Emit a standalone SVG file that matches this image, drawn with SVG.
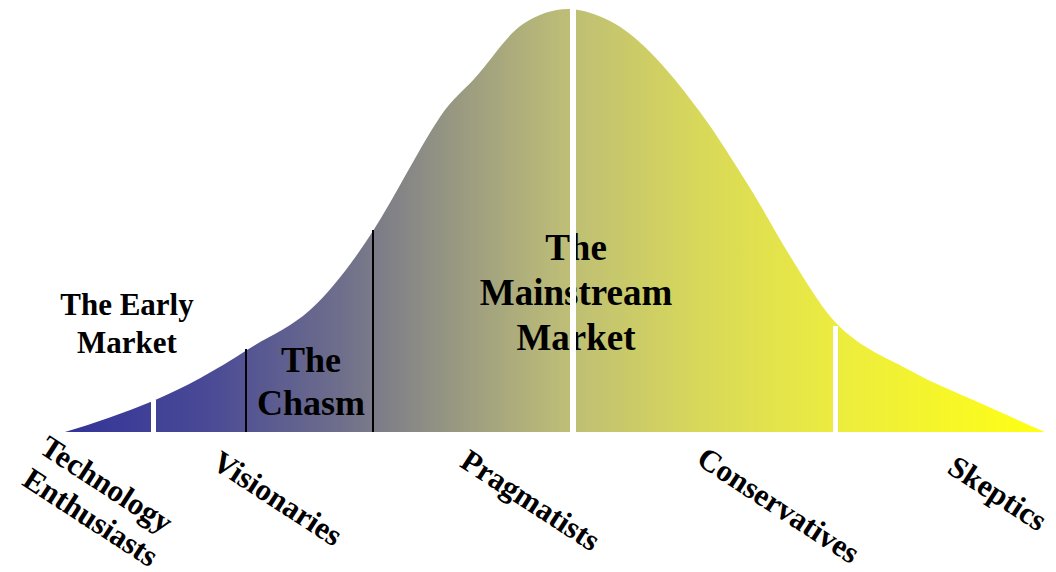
<svg xmlns="http://www.w3.org/2000/svg" width="1056" height="572" viewBox="0 0 1056 572">
  <defs>
    <linearGradient id="grad" gradientUnits="userSpaceOnUse" x1="65" y1="0" x2="1045" y2="0">
      <stop offset="0" stop-color="#333399"/>
      <stop offset="0.148" stop-color="#4a4a96"/>
      <stop offset="0.28" stop-color="#6e6e8c"/>
      <stop offset="0.383" stop-color="#939383"/>
      <stop offset="0.505" stop-color="#bcbc78"/>
      <stop offset="0.648" stop-color="#d8d85a"/>
      <stop offset="0.787" stop-color="#ecec40"/>
      <stop offset="1" stop-color="#ffff15"/>
    </linearGradient>
    <style>
      text { font-family: "Liberation Serif", "Times New Roman", serif; font-weight: bold; fill: #000; text-anchor: middle; }
      .region { font-size: 31px; }
      .big { font-size: 36px; }
      .main { font-size: 37px; }
      .seg { font-size: 31px; }
      .white { stroke: #ffffff; }
      .black { stroke: #000000; stroke-width: 2; }
    </style>
  </defs>
  <rect width="1056" height="572" fill="#ffffff"/>
  <g id="curve">
    <path fill="url(#grad)" d="M65,432 C94.3,423.2 123.7,413.3 153,401 C184.3,387.8 215.7,370.4 247,350 C268,336.35 289,328.9 310,310 C331,291.1 352,263.55 373,231 C395.3,196.4 417.7,150.5 440,117 C451.7,99.5 463.3,90.8 475,78 C491,60.4 507,34.4 523,24 C538,14.25 553,9 568,9 C582,9 596,14 610,21 C623.3,27.7 636.7,38.7 650,52 C666.7,68.7 683.3,89.5 700,112 C716.7,134.5 733.3,161.3 750,188 C763.3,209.3 776.7,234.7 790,256 C806.7,282.7 823.3,311.2 840,327 C864.3,350.1 888.7,358.6 913,372 C935.3,384.3 957.7,393 980,403 C1001.7,412.75 1023.3,422.5 1045,432 Z"/>
  </g>
  <g id="region-labels">
    <g id="early-market">
      <text class="region" x="127" y="315">The Early</text>
      <text class="region" x="127" y="353">Market</text>
    </g>
    <g id="chasm">
      <text class="big" x="311" y="372">The</text>
      <text class="big" x="311" y="415">Chasm</text>
    </g>
    <g id="mainstream-market">
      <text class="main" x="576" y="260">The</text>
      <text class="main" x="576" y="305">Mainstream</text>
      <text class="main" x="576" y="350">Market</text>
    </g>
  </g>
  <g id="dividers">
    <line class="white" x1="153.5" y1="400" x2="153.5" y2="432" stroke-width="5"/>
    <line class="black" x1="246" y1="349" x2="246" y2="432"/>
    <line class="black" x1="373" y1="230" x2="373" y2="432"/>
    <line class="white" x1="573" y1="0" x2="573" y2="432" stroke-width="6"/>
    <line class="white" x1="835.5" y1="326" x2="835.5" y2="432" stroke-width="5"/>
  </g>
  <g id="segment-labels">
    <g id="technology-enthusiasts">
      <text class="seg" transform="translate(101,493) rotate(33)">Technology</text>
      <text class="seg" transform="translate(85,526) rotate(33)">Enthusiasts</text>
    </g>
    <text id="visionaries" class="seg" transform="translate(272,507) rotate(33)">Visionaries</text>
    <text id="pragmatists" class="seg" transform="translate(525,509) rotate(33)">Pragmatists</text>
    <text id="conservatives" class="seg" transform="translate(773,514) rotate(33)">Conservatives</text>
    <text id="skeptics" class="seg" transform="translate(992,502) rotate(33)">Skeptics</text>
  </g>
</svg>
